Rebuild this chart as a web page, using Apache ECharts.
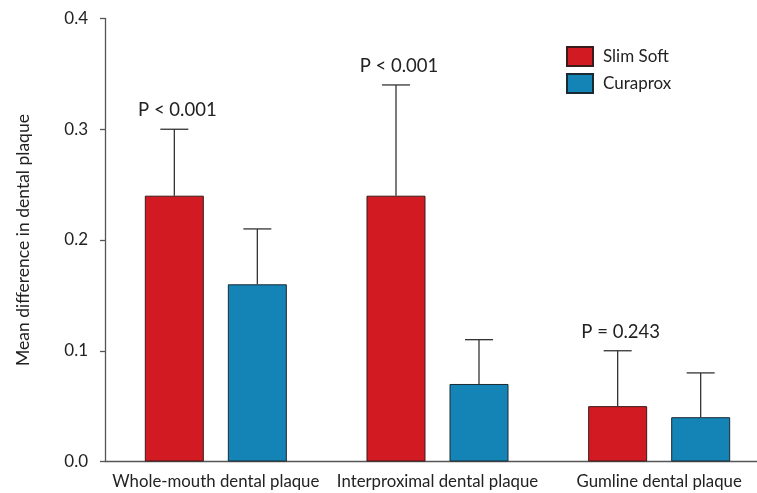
<!DOCTYPE html>
<html>
<head>
<meta charset="utf-8">
<script src="https://cdn.jsdelivr.net/npm/echarts@6/dist/echarts.min.js"></script>
<style>
html,body{margin:0;padding:0;background:#fff;}
#chart{width:757px;height:493px;}
</style>
</head>
<body>
<div id="chart"></div>
<script>
const categories = ['Whole-mouth dental plaque', 'Interproximal dental plaque', 'Gumline dental plaque'];
const seriesNames = ['Slim Soft', 'Curaprox'];
const slimSoft = [0.24, 0.24, 0.05];
const slimSoftUpper = [0.30, 0.34, 0.10];
const curaprox = [0.16, 0.07, 0.04];
const curaproxUpper = [0.21, 0.11, 0.08];
const pLabels = ['P < 0.001', 'P < 0.001', 'P = 0.243'];

const FONT = 'Lato, "Open Sans", sans-serif';
const TEXT = '#222';
const AXIS = '#555';
const RED = '#d11a21';
const BLUE = '#1483b5';
const BAR_W = 59;
const GAP = 24;
const OFFSET = (BAR_W + GAP) / 2;

function errBar(offset, labels) {
  return function (params, api) {
    const idx = api.value(0);
    const base = api.coord([idx, api.value(1)]);
    const top = api.coord([idx, api.value(2)]);
    const x = base[0] + offset;
    const children = [
      { type: 'line', shape: { x1: x, y1: base[1], x2: x, y2: top[1] },
        style: { stroke: '#333', lineWidth: 1.3 } },
      { type: 'line', shape: { x1: x - 14, y1: top[1], x2: x + 14, y2: top[1] },
        style: { stroke: '#333', lineWidth: 1.3 } }
    ];
    if (labels) {
      children.push({ type: 'text', style: { text: labels[params.dataIndex], x: x + 3, y: top[1] - 19,
        textAlign: 'center', textVerticalAlign: 'middle', fill: TEXT, font: '18.5px ' + FONT } });
    }
    return { type: 'group', children: children };
  };
}

const chart = echarts.init(document.getElementById('chart'));
chart.setOption({
  animation: false,
  backgroundColor: '#fff',
  grid: { left: 105, top: 18.5, width: 665, height: 443, containLabel: false, outerBoundsMode: 'none' },
  legend: {
    data: seriesNames, orient: 'vertical', left: 566, top: 46, padding: 0,
    itemWidth: 26, itemHeight: 19, itemGap: 6, icon: 'rect',
    textStyle: { fontSize: 17, color: TEXT, fontFamily: FONT, padding: [0, 0, 0, 5] }
  },
  xAxis: {
    type: 'category', data: categories,
    axisLine: { lineStyle: { color: AXIS, width: 1.3 } },
    axisTick: { alignWithLabel: true, length: 5, lineStyle: { color: AXIS, width: 1.3 } },
    axisLabel: { fontSize: 16.8, color: TEXT, fontFamily: FONT, margin: 12, interval: 0 }
  },
  yAxis: {
    type: 'value', min: 0, max: 0.4, interval: 0.1,
    name: 'Mean difference in dental plaque', nameLocation: 'middle', nameGap: 73,
    nameTextStyle: { fontSize: 17.5, color: TEXT, fontFamily: FONT },
    axisLine: { show: true, lineStyle: { color: AXIS, width: 1.3 } },
    axisTick: { show: true, length: 5, lineStyle: { color: AXIS, width: 1.3 } },
    splitLine: { show: false },
    axisLabel: { fontSize: 17, color: TEXT, fontFamily: FONT, margin: 17,
      formatter: v => v.toFixed(1) }
  },
  series: [
    { name: seriesNames[0], type: 'bar', data: slimSoft, barWidth: BAR_W, barGap: (GAP / BAR_W * 100).toFixed(1) + '%',
      itemStyle: { color: RED, borderColor: '#3a1a1a', borderWidth: 1 } },
    { name: seriesNames[1], type: 'bar', data: curaprox, barWidth: BAR_W,
      itemStyle: { color: BLUE, borderColor: '#1a2a33', borderWidth: 1 } },
    { name: 'errSlim', type: 'custom', renderItem: errBar(-OFFSET, pLabels), z: 1,
      data: categories.map((c, i) => [i, slimSoft[i], slimSoftUpper[i]]) },
    { name: 'errCura', type: 'custom', renderItem: errBar(OFFSET, null), z: 1,
      data: categories.map((c, i) => [i, curaprox[i], curaproxUpper[i]]) }
  ]
});
</script>
</body>
</html>
